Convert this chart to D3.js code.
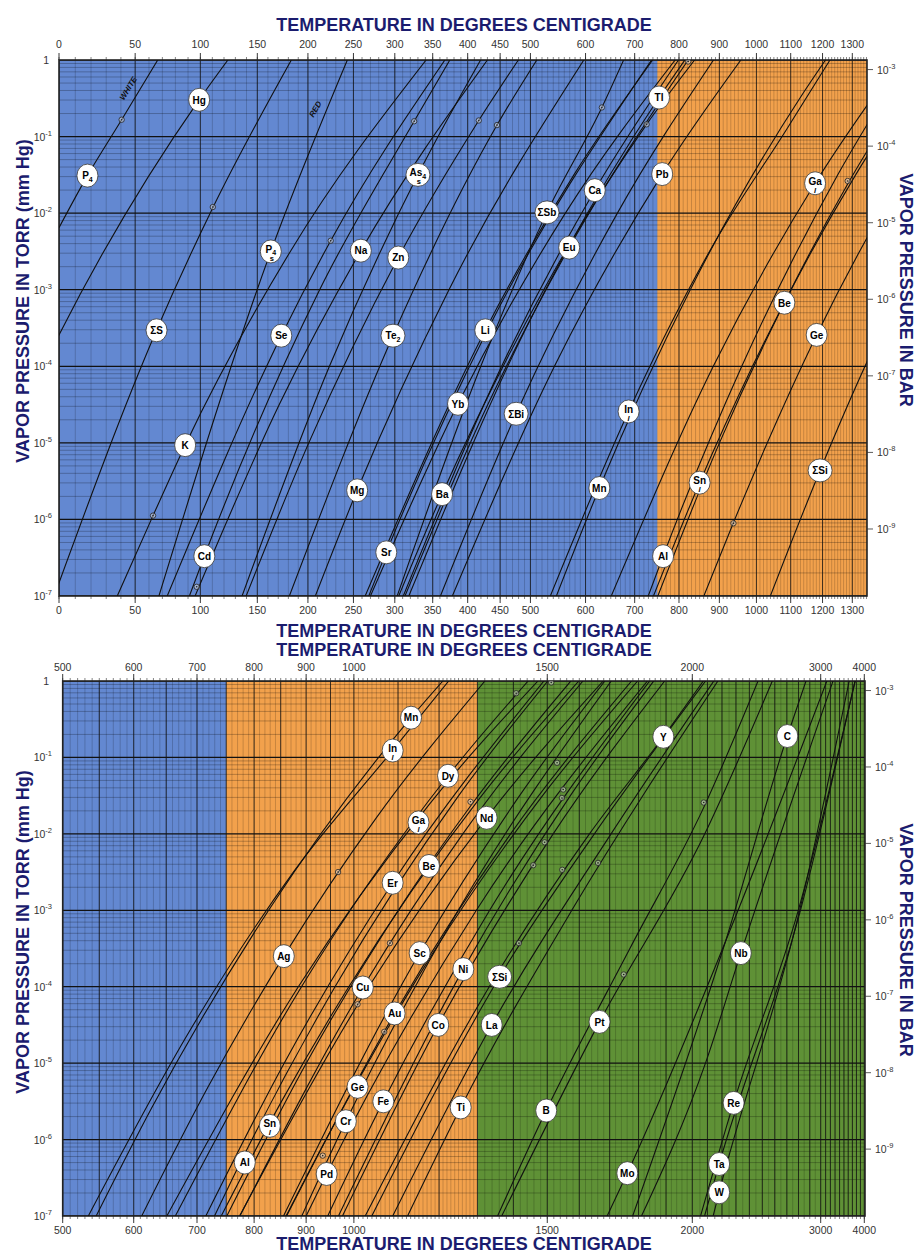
<!DOCTYPE html>
<html>
<head>
<meta charset="utf-8">
<script src="https://cdnjs.cloudflare.com/ajax/libs/d3/7.8.5/d3.min.js"></script>
<style>
body{margin:0;background:#fff}
text{font-family:"Liberation Sans",Arial,sans-serif}
</style>
</head>
<body>
<script>
// vapor pressure curves, points are [deg C, log10 torr]
var curveNames = ['P4w','P4r','Hg','S','K','Cd','Na','Se','Mg','Te2','Zn','As4','Sr','Ba','Yb','Eu','Li','Bi','Sb','Ca','Tl','Pb',
  'Mn','In','Al','Sn','Ga','Be','Ge','Si',
  'Ag','Cu','Au','Cr','Fe','Pd','Dy','Er','Nd','Sc','Ni','Co','La','Ti','Y','B','Pt','Mo','Nb','Re','Ta','W','C']
var curvePts = [
  [[0,-2.19],[17.7,-1.51],[40.5,-0.78],[66.5,0]],
  [[67.4,-7],[162.8,-2.5],[243,0]],
  [[-62.4,-7],[0,-3.59],[99,-0.52],[123.4,0]],
  [[-2.9,-7],[65.6,-3.53],[110.4,-1.93],[183,0]],
  [[37.5,-7],[63,-5.95],[87.7,-5.03],[182,-2.5],[341,0]],
  [[91.1,-7],[103.3,-6.48],[212.4,-3],[325,-0.8],[374,0]],
  [[95.7,-7],[171,-4.5],[258.6,-2.49],[430,0]],
  [[73.7,-7],[173,-3.6],[224.4,-2.36],[367,0]],
  [[207.8,-7],[254.3,-5.62],[372.8,-3],[596.7,0]],
  [[181,-7],[297.7,-3.6],[445,-0.85],[511,0]],
  [[139.7,-7],[200.9,-5],[304.4,-2.58],[416.7,-0.79],[479.7,0]],
  [[136,-7],[223,-4],[330,-1.5],[419.5,0]],
  [[268,-7],[289.3,-6.43],[431.7,-3.5],[737,0]],
  [[305,-7],[363,-5.67],[523,-3],[726,-0.84],[837.7,0]],
  [[270,-7],[385.8,-4.49],[562,-2],[791,0]],
  [[313,-7],[430.6,-4.5],[569,-2.45],[822,0]],
  [[263.7,-7],[426.7,-3.53],[577.8,-1.5],[739.4,0]],
  [[360.7,-7],[476,-4.62],[663.6,-2],[885,0]],
  [[303,-7],[419.8,-4],[528.8,-1.99],[632,-0.62],[676.6,0]],
  [[310.8,-7],[452.4,-4],[618,-1.7],[798.8,0]],
  [[318,-7],[492.7,-3.5],[753.8,-0.49],[814,0]],
  [[377.6,-7],[542.1,-4],[761,-1.49],[957,0]],
  [[545.6,-7],[627,-5.59],[827,-3],[1131,-0.48],[1209.7,0]],
  [[534.7,-7],[687,-4.59],[874.6,-2.5],[1087,-0.91],[1224.5,0]],
  [[729.6,-7],[763,-6.48],[959.5,-4],[1250.3,-1.5],[1501.8,0]],
  [[741.2,-7],[850,-5.52],[989,-4],[1311.6,-1.5],[1598.5,0]],
  [[651,-7],[884.4,-4],[1176,-1.61],[1472,0]],
  [[751,-7],[900.3,-5],[1081,-3.17],[1287,-1.6],[1573,0]],
  [[860.5,-7],[938,-6.03],[1181,-3.59],[1485.8,-1.5],[1797,0]],
  [[1039.7,-7],[1192,-5.36],[1361,-3.87],[1649,-2],[2087.6,0]],
  [[612,-7],[719.4,-5.3],[856,-3.6],[1048.6,-1.8],[1320.5,0]],
  [[774.2,-7],[1019.6,-4.01],[1261.2,-2],[1611.8,0]],
  [[861.4,-7],[1092,-4.35],[1392,-2],[1775.4,0]],
  [[891.2,-7],[982.6,-5.76],[1249,-3],[1705.3,0]],
  [[944.2,-7],[1065.8,-5.5],[1333.3,-3],[1840,0]],
  [[900,-7],[942,-6.45],[1297.2,-3],[1831.9,0]],
  [[664.5,-7],[890.7,-4],[1222.8,-1.24],[1442.9,0]],
  [[714.8,-7],[856.7,-5],[1087.4,-2.64],[1489.9,0]],
  [[773.5,-7],[1033,-4],[1325,-1.79],[1678.4,0]],
  [[855.4,-7],[1151.8,-3.56],[1417.9,-1.5],[1683.9,0]],
  [[966.8,-7],[1262.5,-3.77],[1571.6,-1.5],[1854.7,0]],
  [[975.3,-7],[1198,-4.5],[1518,-2],[1895,0]],
  [[1087.5,-7],[1339,-4.5],[1704.7,-2],[2143.2,0]],
  [[1122.6,-7],[1255.6,-5.58],[1576,-3],[2171.5,0]],
  [[1024.9,-7],[1332.2,-4],[1632.9,-2],[1890,-0.73],[2072.2,0]],
  [[1355.2,-7],[1496.8,-5.62],[1769.5,-3.5],[2076,-1.65],[2466.6,0]],
  [[1366.8,-7],[1666,-4.46],[2082.1,-2],[2579.9,0]],
  [[1691.5,-7],[1760.5,-6.44],[2315.6,-3],[3125.3,0]],
  [[1810.5,-7],[2086.7,-5],[2336,-3.56],[3256.8,0]],
  [[2053.8,-7],[2283,-5.52],[2798.3,-3],[3768,0]],
  [[2080.6,-7],[2180,-6.32],[2817.3,-3],[3765,0]],
  [[2138.6,-7],[2180,-6.69],[2810.1,-3],[3623.3,0]],
  [[1779.3,-7],[2209,-3.5],[2704,-0.72],[2866.2,0]]
]
var topCurves = curveNames.slice(0,30)
var bottomCurves = curveNames.slice(22)

// element tags: "_" starts a subscript, "/" a small letter under the symbol
var topLabelText = ['P_4','Hg','ΣS','K','Cd','P_4/s','Se','Na','Mg','Sr','Te_2','Zn','As_4/s','Ba','Yb','Li','ΣBi','ΣSb','Eu','Ca',
  'Mn','In/l','Tl','Pb','Al','Sn/l','Be','Ga/l','Ge','ΣSi']
var topLabelPos = [[17.7,-1.51],[99,-0.52],[65.6,-3.53],[87.7,-5.03],[103.3,-6.48],[162.8,-2.5],[173,-3.6],[258.6,-2.49],[254.3,-5.62],
  [289.3,-6.43],[297.7,-3.6],[304.4,-2.58],[330,-1.5],[363,-5.67],[385.8,-4.49],[426.7,-3.53],[476,-4.62],[528.8,-1.99],[569,-2.45],
  [618,-1.7],[627,-5.59],[687,-4.59],[753.8,-0.49],[761,-1.49],[763,-6.48],[850,-5.52],[1081,-3.17],[1176,-1.61],[1181,-3.59],[1192,-5.36]]
var bottomLabelText = ['Mn','In/l','Y','C','Dy','Nd','Ga/l','Be','Er','Ag','Sc','Nb','Ni','ΣSi','Cu','Au','Co','La','Pt','Ge','Fe',
  'Ti','B','Re','Cr','Sn/l','Al','Pd','Mo','Ta','W']
var bottomLabelPos = [[1131,-0.48],[1087.4,-0.91],[1890,-0.73],[2704,-0.72],[1222.8,-1.24],[1325,-1.79],[1149,-1.85],[1174.8,-2.42],
  [1087.4,-2.64],[856,-3.6],[1151.8,-3.56],[2336,-3.56],[1262.5,-3.77],[1361,-3.87],[1019.6,-4.01],[1092,-4.35],[1198,-4.5],
  [1339,-4.5],[1666,-4.46],[1008,-5.31],[1065.8,-5.5],[1255.6,-5.58],[1496.8,-5.62],[2283,-5.52],[982.6,-5.76],[829.3,-5.82],
  [783,-6.3],[942,-6.45],[1760.5,-6.44],[2180,-6.32],[2180,-6.69]]

// melting point marks
var topMelt = [[40.5,-0.78],[110.4,-1.92],[63,-5.95],[97,-6.88],[224.4,-2.36],[325,-0.8],[416.7,-0.79],[445,-0.85],[632,-0.62],
  [726,-0.84],[822,-0.02],[937,-6.05],[1284,-1.58]]
var bottomMelt = [[1408,-0.16],[1512,-0.02],[1530,-1.07],[1549,-1.42],[1545,-1.53],[1492,-2.11],[1458,-2.41],[1546,-2.47],
  [1661,-2.38],[2075,-1.59],[1416,-3.43],[1748,-3.84],[1281.5,-1.58],[1081,-3.43],[1008,-4.23],[1068,-4.59],[933.8,-6.21],[966,-2.5]]

var topTicks = [0,50,100,150,200,250,300,350,400,450,500,600,700,800,900,1000,1100,1200,1300]
var bottomTicks = [500,600,700,800,900,1000,1500,2000,3000,4000]
var torrExp = [0,-1,-2,-3,-4,-5,-6,-7]
var barExp = [-3,-4,-5,-6,-7,-8,-9]

var width = 917,
    height = 1256
var blue = '#6388d1', orange = '#f2a14c', green = '#5f9136', navy = '#1b1c6e'

var svg = d3.select('body').append('svg')
  .attr('width',width)
  .attr('height',height)
svg.append('rect').attr('width',width).attr('height',height).attr('fill','#fff')

// top panel: log of absolute temperature
var topK = d3.scaleLog().domain([273.15,1573.15]).range([59,852.3])
// bottom panel: log of absolute temperature, squeezed above 2000 C
var botK = d3.scaleLinear()
  .domain([773.15,2273.15,3273.15,4273.15].map(Math.log10))
  .range([62.7,692.3,820.7,864.3])

var panels = [
  {id:'top', x:function(t){return topK(t+273.15)}, y:d3.scaleLog().domain([1e-7,1]).range([596,60]),
   x0:59, x1:867, y0:60, y1:596,
   bands:[[0,750,blue],[750,99999,orange]],
   minor:d3.range(0,1351,10), major:d3.range(0,501,50).concat(d3.range(600,1301,100)),
   ticks:topTicks, curves:topCurves, labText:topLabelText, labPos:topLabelPos, melt:topMelt,
   tickTop:47.5, tickBot:613.5, leftTitle:301, rightTitle:290},
  {id:'bot', x:function(t){return botK(Math.log10(t+273.15))}, y:d3.scaleLog().domain([1e-7,1]).range([1216,681]),
   x0:62.7, x1:865, y0:681, y1:1216,
   bands:[[500,750,blue],[750,1300,orange],[1300,99999,green]],
   minor:d3.range(500,1300,10).concat(d3.range(1300,2000,20),d3.range(2000,3000,50),d3.range(3000,4001,100)),
   major:d3.range(500,1001,50).concat(d3.range(1100,4001,100)),
   ticks:bottomTicks, curves:bottomCurves, labText:bottomLabelText, labPos:bottomLabelPos, melt:bottomMelt,
   tickTop:671, tickBot:1233.5, leftTitle:932, rightTitle:940}
]

panels.forEach(function(p){
  var g = svg.append('g')
  var clip = 'clip-' + p.id
  svg.append('clipPath').attr('id',clip).append('rect')
    .attr('x',p.x0).attr('y',p.y0).attr('width',p.x1-p.x0).attr('height',p.y1-p.y0)

  // colour bands
  p.bands.forEach(function(b){
    var a = Math.max(p.x0, p.x(b[0])), c = Math.min(p.x1, p.x(b[1]))
    g.append('rect').attr('x',a).attr('y',p.y0).attr('width',c-a).attr('height',p.y1-p.y0).attr('fill',b[2])
  })

  // horizontal grid
  var grid = g.append('g').attr('clip-path','url(#'+clip+')')
  for (var k=-7; k<0; k++){
    for (var m=2; m<10; m++){
      var yy = p.y(m*Math.pow(10,k))
      grid.append('line').attr('x1',p.x0).attr('x2',p.x1).attr('y1',yy).attr('y2',yy)
        .attr('stroke','#000').attr('stroke-opacity',0.42).attr('stroke-width',0.6)
    }
  }
  // vertical grid
  p.minor.forEach(function(t){
    var xx = p.x(t)
    if (xx < p.x0-0.5 || xx > p.x1+0.5) return
    grid.append('line').attr('x1',xx).attr('x2',xx).attr('y1',p.y0).attr('y2',p.y1)
      .attr('stroke','#000').attr('stroke-opacity',0.3).attr('stroke-width',0.6)
    g.append('line').attr('x1',xx).attr('x2',xx).attr('y1',p.y0-3).attr('y2',p.y0).attr('stroke','#333').attr('stroke-width',0.6)
    g.append('line').attr('x1',xx).attr('x2',xx).attr('y1',p.y1).attr('y2',p.y1+3).attr('stroke','#333').attr('stroke-width',0.6)
  })
  p.major.forEach(function(t){
    var xx = p.x(t)
    if (xx < p.x0-0.5 || xx > p.x1+0.5) return
    grid.append('line').attr('x1',xx).attr('x2',xx).attr('y1',p.y0).attr('y2',p.y1)
      .attr('stroke','#111').attr('stroke-opacity',0.85).attr('stroke-width',0.9)
  })
  p.ticks.forEach(function(t){
    var xx = p.x(t)
    g.append('line').attr('x1',xx).attr('x2',xx).attr('y1',p.y0-7).attr('y2',p.y0).attr('stroke','#222').attr('stroke-width',0.9)
    g.append('line').attr('x1',xx).attr('x2',xx).attr('y1',p.y1).attr('y2',p.y1+7).attr('stroke','#222').attr('stroke-width',0.9)
    ;[p.tickTop, p.tickBot].forEach(function(ty){
      g.append('text').attr('x',xx).attr('y',ty).attr('text-anchor','middle')
        .attr('font-size',10.5).attr('fill','#333').text(t)
    })
  })
  torrExp.forEach(function(k){
    var yy = p.y(Math.pow(10,k))
    grid.append('line').attr('x1',p.x0).attr('x2',p.x1).attr('y1',yy).attr('y2',yy)
      .attr('stroke','#111').attr('stroke-width',1.3)
  })

  // frame
  g.append('rect').attr('x',p.x0).attr('y',p.y0).attr('width',p.x1-p.x0).attr('height',p.y1-p.y0)
    .attr('fill','none').attr('stroke','#222').attr('stroke-width',1.6)

  // vapor pressure curves
  var line = d3.line()
    .x(function(d){return p.x(d[0])})
    .y(function(d){return p.y(Math.pow(10,d[1]))})
    .curve(d3.curveMonotoneX)
  var cg = g.append('g').attr('clip-path','url(#'+clip+')')
  p.curves.forEach(function(name){
    cg.append('path').attr('d',line(curvePts[curveNames.indexOf(name)]))
      .attr('fill','none').attr('stroke','#111').attr('stroke-width',1.1)
  })

  // melting points
  p.melt.forEach(function(d){
    var cx = p.x(d[0]), cy = p.y(Math.pow(10,d[1]))
    cg.append('circle').attr('cx',cx).attr('cy',cy).attr('r',2.7)
      .attr('fill','#ddd').attr('fill-opacity',0.5).attr('stroke','#222').attr('stroke-width',0.8)
    cg.append('circle').attr('cx',cx).attr('cy',cy).attr('r',0.8).attr('fill','#222')
  })

  // element tags
  p.labText.forEach(function(s,i){
    var cx = p.x(p.labPos[i][0]), cy = p.y(Math.pow(10,p.labPos[i][1]))
    var parts = s.split('/'), main = parts[0].split('_')
    var wide = main[0].length > 2 || (main[1] && main[0].length > 1)
    g.append('ellipse').attr('cx',cx).attr('cy',cy).attr('rx',wide ? 12 : 10.5).attr('ry',11.5)
      .attr('fill','#fff').attr('stroke','#333').attr('stroke-width',0.8)
    var t = g.append('text').attr('x',cx).attr('y',parts[1] ? cy+1.5 : cy+3.8)
      .attr('text-anchor','middle').attr('font-size',10).attr('font-weight','bold')
      .style('font-family','"Liberation Sans Narrow","Liberation Sans",Arial,sans-serif')
    t.append('tspan').text(main[0])
    if (main[1]) t.append('tspan').attr('font-size',7).attr('dy',2.5).text(main[1])
    if (parts[1]) g.append('text').attr('x',cx+(main[1]?1:0)).attr('y',cy+9.5).attr('text-anchor','middle')
      .attr('font-size',7.5).attr('font-weight','bold').attr('font-style',parts[1]==='l'?'italic':'normal').text(parts[1])
  })

  // pressure labels
  torrExp.forEach(function(k){
    var yy = p.y(Math.pow(10,k))
    var t = g.append('text').attr('x',k===0 ? 49 : 52).attr('y',yy+4).attr('text-anchor','end')
      .attr('font-size',10.5).attr('fill','#333')
    if (k===0) t.text('1')
    else { t.append('tspan').text('10'); t.append('tspan').attr('font-size',7.5).attr('dy',-5).text('-'+(-k)) }
  })
  barExp.forEach(function(k){
    var yy = p.y(Math.pow(10,k)*750.06)
    g.append('line').attr('x1',p.x1).attr('x2',p.x1+6).attr('y1',yy).attr('y2',yy).attr('stroke','#333').attr('stroke-width',0.8)
    var t = g.append('text').attr('x',p.x1+10).attr('y',yy+4).attr('font-size',10.5).attr('fill','#333')
    t.append('tspan').text('10'); t.append('tspan').attr('font-size',7.5).attr('dy',-5).text('-'+(-k))
  })

  // side titles
  svg.append('text').attr('transform','translate(29,'+p.leftTitle+') rotate(-90)')
    .attr('text-anchor','middle').attr('font-size',18).attr('font-weight','bold').attr('fill',navy)
    .text('VAPOR PRESSURE IN TORR (mm Hg)')
  svg.append('text').attr('transform','translate(900,'+p.rightTitle+') rotate(90)')
    .attr('text-anchor','middle').attr('font-size',18).attr('font-weight','bold').attr('fill',navy)
    .text('VAPOR PRESSURE IN BAR')
})

// phosphorus modifications written along their curves
var pt = panels[0]
;[['WHITE',46.7,-0.39,-58],['RED',210.3,-0.66,-60]].forEach(function(d){
  svg.append('text').attr('transform','translate('+pt.x(d[1])+','+pt.y(Math.pow(10,d[2]))+') rotate('+d[3]+')')
    .attr('text-anchor','middle').attr('font-size',8).attr('font-style','italic').attr('font-weight','bold')
    .attr('fill','#111').text(d[0])
})

// temperature titles
;[30.5,637,655.5,1250].forEach(function(y){
  svg.append('text').attr('x',464).attr('y',y).attr('text-anchor','middle')
    .attr('font-size',18).attr('font-weight','bold').attr('fill',navy)
    .text('TEMPERATURE IN DEGREES CENTIGRADE')
})
</script>
</body>
</html>
